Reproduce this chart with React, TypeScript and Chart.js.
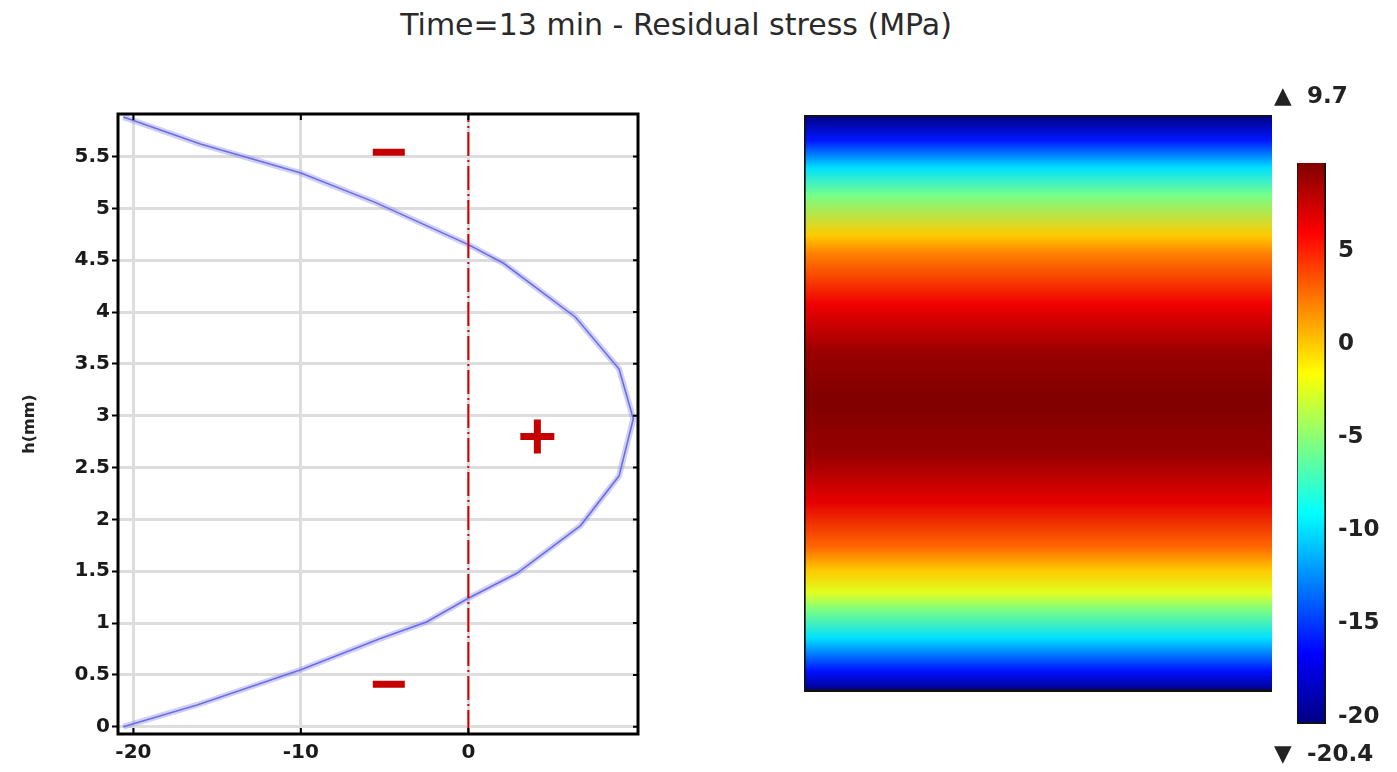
import React, { useEffect, useRef } from "react";
import { Chart, registerables } from "chart.js";

Chart.register(...registerables);

// ---- data ----
const titleText = "Time=13 min - Residual stress (MPa)";
const yAxisTitle = "h(mm)";
const depthMm = [0, 0.21, 0.55, 0.85, 1.01, 1.24, 1.48, 1.94, 2.42, 2.97, 3.45, 3.95, 4.47, 4.65, 5.06, 5.34, 5.62, 5.88];
const stressMPa = [-20.6, -16.2, -10.0, -5.25, -2.5, 0, 2.9, 6.7, 9.0, 9.85, 9.0, 6.4, 2.1, 0, -5.6, -10.0, -16.0, -20.6];
const xTicks = [-20, -10, 0];
const yTicks = [0, 0.5, 1, 1.5, 2, 2.5, 3, 3.5, 4, 4.5, 5, 5.5];
const xRange = [-20.92, 10.13];
const yRange = [-0.07, 5.91];
const zeroStress = [0];
const minusX = [-4.75, -4.75];
const minusY = [5.54, 0.41];
const plusX = [4.12];
const plusY = [2.8];
const colorTicks = [-20, -15, -10, -5, 0, 5];
const colorMin = -20.4;
const colorMax = 9.7;

// jet colormap anchors (style)
const jetAnchors: [number, number[]][] = [
  [0, [0, 0, 128]],
  [0.125, [0, 0, 255]],
  [0.375, [0, 255, 255]],
  [0.625, [255, 255, 0]],
  [0.875, [255, 0, 0]],
  [1, [128, 0, 0]],
];
function jet(t: number): string {
  const v = Math.max(0, Math.min(1, t));
  for (let i = 0; i < jetAnchors.length - 1; i++) {
    const [t0, c0] = jetAnchors[i];
    const [t1, c1] = jetAnchors[i + 1];
    if (v <= t1) {
      const f = (v - t0) / (t1 - t0);
      const c = c0.map((a, k) => Math.round(a + (c1[k] - a) * f));
      return `rgb(${c[0]},${c[1]},${c[2]})`;
    }
  }
  return "rgb(128,0,0)";
}
const norm = (s: number) => (s - colorMin) / (colorMax - colorMin);

const tickFont = { family: "'DejaVu Sans', sans-serif", size: 20, weight: "bold" as const };
const cbFont = { family: "'DejaVu Sans', sans-serif", size: 23, weight: "bold" as const };
const plainLabel = (v: any) => String(Number(v));

const framePlugin = {
  id: "frame",
  afterDatasetsDraw(chart: any) {
    const { ctx, chartArea: a, scales } = chart;
    ctx.save();
    ctx.strokeStyle = "#000";
    ctx.lineWidth = 3;
    ctx.strokeRect(a.left, a.top, a.right - a.left, a.bottom - a.top);
    ctx.lineWidth = 2;
    ctx.beginPath();
    xTicks.forEach((v) => {
      const x = scales.x.getPixelForValue(v);
      ctx.moveTo(x, a.top);
      ctx.lineTo(x, a.top + 6);
      ctx.moveTo(x, a.bottom);
      ctx.lineTo(x, a.bottom - 6);
    });
    yTicks.forEach((v) => {
      const y = scales.y.getPixelForValue(v);
      ctx.moveTo(a.right, y);
      ctx.lineTo(a.right - 5, y);
    });
    ctx.stroke();
    ctx.restore();
  },
};

const extremesPlugin = {
  id: "extremes",
  afterDraw(chart: any) {
    const { ctx, chartArea: a } = chart;
    ctx.save();
    ctx.fillStyle = "#222";
    ctx.font = `bold ${cbFont.size}px ${cbFont.family}`;
    ctx.textBaseline = "middle";
    ctx.textAlign = "left";
    const lx = a.left - 23;
    const vx = a.left + 10;
    ctx.fillText("\u25B2", lx, a.top - 66);
    ctx.fillText(String(colorMax), vx, a.top - 66);
    ctx.fillText("\u25BC", lx, a.bottom + 31);
    ctx.fillText(String(colorMin), vx, a.bottom + 31);
    ctx.restore();
  },
};

function ProfileChart() {
  const ref = useRef<HTMLCanvasElement>(null);
  useEffect(() => {
    const curve = depthMm.map((h, i) => ({ x: stressMPa[i], y: h }));
    const zeroLine = zeroStress.flatMap((s) => [
      { x: s, y: yRange[0] },
      { x: s, y: yRange[1] },
    ]);
    const minus = minusX.map((x, i) => ({ x, y: minusY[i] }));
    const plus = plusX.map((x, i) => ({ x, y: plusY[i] }));
    const chart = new Chart(ref.current!, {
      type: "scatter",
      data: {
        datasets: [
          {
            data: zeroLine,
            showLine: true,
            borderColor: "#d40000",
            borderWidth: 2,
            borderDash: [24, 4, 2, 4],
            pointRadius: 0,
          },
          {
            data: curve,
            showLine: true,
            borderColor: "rgba(150,150,238,0.45)",
            borderWidth: 6,
            pointRadius: 0,
          },
          {
            data: curve,
            showLine: true,
            borderColor: "#4b4bd9",
            borderWidth: 1.6,
            pointRadius: 0,
          },
          {
            data: minus,
            pointStyle: "line",
            pointRadius: 16,
            pointBorderWidth: 7,
            pointBorderColor: "#c40000",
            pointBackgroundColor: "#c40000",
          },
          {
            data: plus,
            pointStyle: "cross",
            pointRadius: 17,
            pointBorderWidth: 7,
            pointBorderColor: "#c40000",
            pointBackgroundColor: "#c40000",
          },
        ] as any,
      },
      options: {
        animation: false,
        responsive: false,
        layout: { padding: { top: 22, right: 42, left: 0, bottom: 0 } },
        plugins: { legend: { display: false }, tooltip: { enabled: false } },
        scales: {
          x: {
            type: "linear",
            min: xRange[0],
            max: xRange[1],
            afterBuildTicks: (s: any) => {
              s.ticks = xTicks.map((v) => ({ value: v }));
            },
            afterFit: (s: any) => {
              s.height = 38;
            },
            grid: { color: "#dddddd", lineWidth: 3, drawTicks: false },
            border: { display: false },
            ticks: { font: tickFont, color: "#1a1a1a", padding: 7, callback: plainLabel },
          },
          y: {
            type: "linear",
            min: yRange[0],
            max: yRange[1],
            afterBuildTicks: (s: any) => {
              s.ticks = yTicks.map((v) => ({ value: v }));
            },
            afterFit: (s: any) => {
              s.width = 118;
            },
            grid: { color: "#dddddd", lineWidth: 3, tickColor: "#000", tickLength: 6, tickWidth: 2 },
            border: { display: false },
            ticks: { font: tickFont, color: "#1a1a1a", padding: 2, callback: plainLabel },
            title: {
              display: true,
              text: yAxisTitle,
              color: "#222",
              font: { family: "'DejaVu Sans', sans-serif", size: 16, weight: "bold" },
              padding: { top: 20, bottom: 0 },
            },
          },
        },
      } as any,
      plugins: [framePlugin],
    });
    return () => chart.destroy();
  }, []);
  return (
    <canvas
      ref={ref}
      width={680}
      height={682}
      style={{ position: "absolute", left: 0, top: 90, width: 680, height: 682 }}
    />
  );
}

function FieldChart() {
  const ref = useRef<HTMLCanvasElement>(null);
  useEffect(() => {
    const depthMax = depthMm[depthMm.length - 1];
    const chart = new Chart(ref.current!, {
      type: "bar",
      data: {
        labels: ["field"],
        datasets: [
          {
            data: [[0, depthMax]],
            backgroundColor: (c: any) => {
              const ch = c.chart;
              if (!ch.chartArea) return "transparent";
              const y = ch.scales.y;
              const g = ch.ctx.createLinearGradient(0, y.getPixelForValue(0), 0, y.getPixelForValue(depthMax));
              depthMm.forEach((h, i) => g.addColorStop(h / depthMax, jet(norm(stressMPa[i]))));
              return g;
            },
            borderColor: "#111",
            borderWidth: { left: 2, top: 2, bottom: 3, right: 0 },
            borderSkipped: false,
            barPercentage: 1,
            categoryPercentage: 1,
          },
        ] as any,
      },
      options: {
        animation: false,
        responsive: false,
        layout: { padding: { left: 8, top: 7, right: 8, bottom: 8 } },
        plugins: { legend: { display: false }, tooltip: { enabled: false } },
        scales: {
          x: { display: false },
          y: { display: false, min: 0, max: depthMax },
        },
      } as any,
    });
    return () => chart.destroy();
  }, []);
  return (
    <canvas
      ref={ref}
      width={484}
      height={592}
      style={{ position: "absolute", left: 796, top: 108, width: 484, height: 592 }}
    />
  );
}

function ColorBarChart() {
  const ref = useRef<HTMLCanvasElement>(null);
  useEffect(() => {
    const chart = new Chart(ref.current!, {
      type: "bar",
      data: {
        labels: ["colorbar"],
        datasets: [
          {
            data: [[colorMin, colorMax]],
            backgroundColor: (c: any) => {
              const ch = c.chart;
              if (!ch.chartArea) return "transparent";
              const y = ch.scales.y;
              const g = ch.ctx.createLinearGradient(0, y.getPixelForValue(colorMin), 0, y.getPixelForValue(colorMax));
              jetAnchors.forEach(([t]) => g.addColorStop(t, jet(t)));
              return g;
            },
            borderColor: "#111",
            borderWidth: { left: 1, right: 2, top: 0, bottom: 2 },
            borderSkipped: false,
            barPercentage: 1,
            categoryPercentage: 1,
          },
        ] as any,
      },
      options: {
        animation: false,
        responsive: false,
        layout: { padding: { left: 35, top: 83, bottom: 48, right: 0 } },
        plugins: { legend: { display: false }, tooltip: { enabled: false } },
        scales: {
          x: { display: false },
          y: {
            position: "right",
            min: colorMin,
            max: colorMax,
            afterBuildTicks: (s: any) => {
              s.ticks = colorTicks.map((v) => ({ value: v }));
            },
            afterFit: (s: any) => {
              s.width = 71;
            },
            grid: { display: false, drawTicks: false },
            border: { display: false },
            ticks: { font: cbFont, color: "#222", padding: 12, callback: plainLabel },
          },
        },
      } as any,
      plugins: [extremesPlugin],
    });
    return () => chart.destroy();
  }, []);
  return (
    <canvas
      ref={ref}
      width={135}
      height={692}
      style={{ position: "absolute", left: 1262, top: 80, width: 135, height: 692 }}
    />
  );
}

export default function App() {
  return (
    <div style={{ position: "absolute", left: 0, top: 0, width: 1397, height: 772, background: "#fff", overflow: "hidden" }}>
      <div
        style={{
          position: "absolute",
          left: 276,
          top: 8,
          width: 800,
          textAlign: "center",
          fontFamily: "'DejaVu Sans', sans-serif",
          fontSize: 30,
          lineHeight: "34px",
          color: "#2a2a2a",
        }}
      >
        {titleText}
      </div>
      <ProfileChart />
      <FieldChart />
      <ColorBarChart />
    </div>
  );
}
